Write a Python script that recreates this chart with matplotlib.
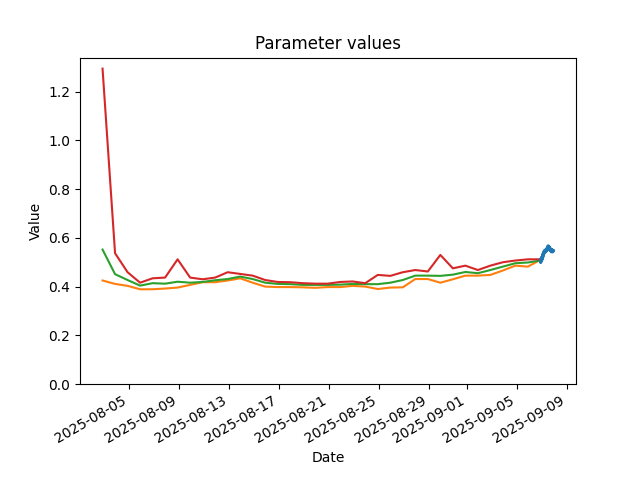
import pandas as pd
import matplotlib
matplotlib.use("Agg")
import matplotlib.pyplot as plt

# daily parameter values, one per day
daily_dates = pd.date_range("2025-08-02 21:30", periods=36, freq="D")

orange_vals = [0.425, 0.411, 0.403, 0.389, 0.389, 0.392, 0.396, 0.407, 0.418, 0.418,
               0.425, 0.434, 0.416, 0.400, 0.398, 0.398, 0.397, 0.395, 0.398, 0.398,
               0.403, 0.400, 0.390, 0.396, 0.397, 0.431, 0.431, 0.416, 0.430, 0.445,
               0.445, 0.448, 0.466, 0.486, 0.482, 0.510]

green_vals = [0.552, 0.451, 0.427, 0.404, 0.414, 0.412, 0.420, 0.416, 0.419, 0.426,
              0.431, 0.441, 0.431, 0.416, 0.411, 0.410, 0.407, 0.407, 0.407, 0.408,
              0.411, 0.410, 0.410, 0.416, 0.427, 0.445, 0.445, 0.444, 0.449, 0.460,
              0.455, 0.468, 0.482, 0.496, 0.499, 0.507]

red_vals = [1.295, 0.537, 0.459, 0.416, 0.434, 0.437, 0.512, 0.437, 0.430, 0.437,
            0.459, 0.452, 0.445, 0.427, 0.419, 0.418, 0.414, 0.412, 0.412, 0.419,
            0.421, 0.414, 0.448, 0.444, 0.459, 0.468, 0.462, 0.530, 0.475, 0.486,
            0.468, 0.486, 0.500, 0.507, 0.512, 0.512]

# half-hourly values for the last day
blue_dates = pd.date_range("2025-09-06 21:30", periods=51, freq="30min")
blue_vals = [0.512, 0.498, 0.515, 0.502, 0.520, 0.506, 0.522, 0.512, 0.530, 0.518,
             0.536, 0.525, 0.540, 0.532, 0.546, 0.538, 0.548, 0.540, 0.550, 0.542,
             0.552, 0.544, 0.550, 0.546, 0.556, 0.548, 0.560, 0.552, 0.566, 0.556,
             0.568, 0.560, 0.565, 0.556, 0.562, 0.552, 0.560, 0.548, 0.556, 0.546,
             0.554, 0.544, 0.552, 0.542, 0.552, 0.544, 0.550, 0.542, 0.550, 0.544,
             0.548]

fig, ax = plt.subplots(figsize=(6.4, 4.8), dpi=100)

ax.plot(daily_dates, orange_vals, color="C1")
ax.plot(daily_dates, green_vals, color="C2")
ax.plot(daily_dates, red_vals, color="C3")
ax.plot(blue_dates, blue_vals, color="C0", linewidth=2)

ax.set_ylim(bottom=0)
ax.set_title("Parameter values")
ax.set_xlabel("Date")
ax.set_ylabel("Value")
fig.autofmt_xdate()

fig.savefig("out.png")
